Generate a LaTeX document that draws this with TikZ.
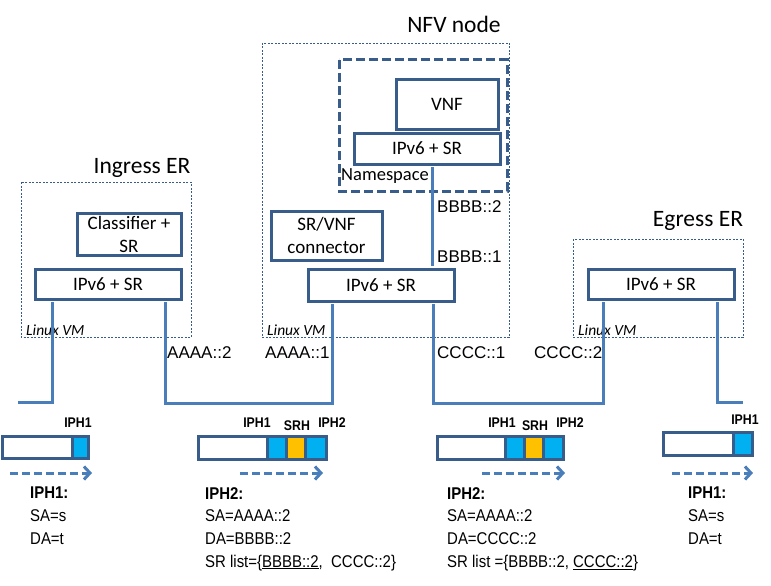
\documentclass[tikz,border=0pt]{standalone}
\usepackage{fontspec}
\setmainfont{Carlito}
\newfontfamily\arialn{Liberation Sans}
\newfontfamily\arialcond[FakeStretch=0.88]{Liberation Sans}
\usetikzlibrary{arrows.meta}
\definecolor{boxblue}{HTML}{385D8A}
\definecolor{linkblue}{HTML}{4A7EBB}
\definecolor{cellblue}{HTML}{00B0F0}
\definecolor{cellorange}{HTML}{FFC000}

\begin{document}
\begin{tikzpicture}[x=1pt, y=-1pt,
		box/.style={draw=boxblue, line width=3pt, fill=white, inner sep=0pt, align=center, font=\fontsize{19}{23}\selectfont},
		vm/.style={draw=boxblue, line width=0.8pt, dash pattern=on 2pt off 1.5pt},
		ns/.style={draw=boxblue, line width=3pt, dash pattern=on 9pt off 4pt},
		link/.style={draw=linkblue, line width=3pt, shorten <=1.5pt, shorten >=1.5pt},
		title/.style={inner sep=0pt, font=\fontsize{23.5}{26}\selectfont},
		vmlab/.style={anchor=west, inner sep=0pt, font=\fontsize{15.5}{17}\selectfont\itshape},
		addr/.style={anchor=west, inner sep=0pt, font=\arialn\fontsize{17}{20}\selectfont},
		hdr/.style={inner sep=0pt, font=\arialcond\fontsize{14}{16}\selectfont\bfseries},
		info/.style={anchor=north west, inner sep=0pt, align=left, font=\arialcond\fontsize{17}{22.7}\selectfont},
		frame/.style={draw=boxblue, line width=3pt},
		flow/.style={draw=linkblue, line width=3pt, dash pattern=on 8pt off 4pt, -{Straight Barb[length=6pt, width=13pt, line width=3pt]}}]
	\useasboundingbox (0,0) rectangle (771,586);

	% === Ingress ER ===
	\begin{scope}
		\node[title] (ingt) at (142,168) {Ingress ER};
		\draw[vm] (21,182) rectangle (191,337);
		\node[box, minimum width=104, minimum height=42] (ingcls) at (129,234) {Classifier +\\SR};
		\node[box, minimum width=146, minimum height=30] (ingip) at (108,284) {IPv6 + SR};
		\node[vmlab] (ingvm) at (26,330) {Linux VM};
	\end{scope}

	% === NFV node ===
	\begin{scope}
		\node[title] (nfvt) at (454,24) {NFV node};
		\draw[vm] (262,43) rectangle (509,337);
		\draw[ns] (339,60) rectangle (507,191);
		\node[box, minimum width=102, minimum height=49] (vnf) at (447,104.5) {VNF};
		\node[box, minimum width=146, minimum height=31] (nsip) at (427,148.5) {IPv6 + SR};
		\node[anchor=west, inner sep=0pt, font=\fontsize{18.5}{20}\selectfont] (nslab) at (341,176) {Namespace};
		\node[box, minimum width=111, minimum height=49] (conn) at (326.5,235.5) {SR/VNF\\connector};
		\node[box, minimum width=146, minimum height=32] (nfvip) at (381,285) {IPv6 + SR};
		\node[vmlab] (nfvvm) at (267,330) {Linux VM};
		% lien vers le namespace
		\draw[link] (432,0 |- nsip.south) -- (432,0 |- nfvip.north);
		\node[addr] (b2) at (437,207) {BBBB::2};
		\node[addr] (b1) at (437,257) {BBBB::1};
	\end{scope}

	% === Egress ER ===
	\begin{scope}
		\node[title] (egt) at (698,221) {Egress ER};
		\draw[vm] (573,239) rectangle (743,337);
		\node[box, minimum width=146, minimum height=30] (egip) at (661,284) {IPv6 + SR};
		\node[vmlab] (egvm) at (578,330) {Linux VM};
	\end{scope}

	% === liens ===
	\coordinate (inend) at (18,402);
	\coordinate (outend) at (743,402);
	\draw[link, shorten >=0pt] (52,0 |- ingip.south) |- (inend);
	\draw[link] (165,0 |- ingip.south) -- (165,403) -| (332,0 |- nfvip.south);
	\draw[link] (433,0 |- nfvip.south) -- (433,403) -| (603,0 |- egip.south);
	\draw[link, shorten >=0pt] (717,0 |- egip.south) |- (outend);

	\node[addr] (a2) at (167,353) {AAAA::2};
	\node[addr] (a1) at (265,353) {AAAA::1};
	\node[addr] (c1) at (437,353) {CCCC::1};
	\node[addr] (c2) at (534,353) {CCCC::2};

	% === paquets ===
	% paquet 1
	\fill[cellblue] (72,436) rectangle (88,458);
	\draw[frame] (2,436) rectangle (88,458) (72,436) -- (72,458);
	\node[hdr] (p1h1) at (78,423) {IPH1};
	\draw[flow] (10,473) -- (92,473);
	\node[info] (p1txt) at (30,487) {\textbf{IPH1:}\\SA=s\\DA=t};

	% paquet 2
	\fill[cellblue] (267,436) rectangle (286,459);
	\fill[cellorange] (286,436) rectangle (305,459);
	\fill[cellblue] (305,436) rectangle (326,459);
	\draw[frame] (198,436) rectangle (326,459) (267,436) -- (267,459) (286,436) -- (286,459) (305,436) -- (305,459);
	\node[hdr] (p2h1) at (257,423) {IPH1};
	\node[hdr] (p2srh) at (297,426) {SRH};
	\node[hdr] (p2h2) at (332,423) {IPH2};
	\draw[flow] (240,473) -- (323,473);
	\node[info] (p2txt) at (205,487) {\textbf{IPH2:}\\SA=AAAA::2\\DA=BBBB::2\\SR list=\{\underline{BBBB::2},\ \ CCCC::2\}};

	% paquet 3
	\fill[cellblue] (505,436) rectangle (524,459);
	\fill[cellorange] (524,436) rectangle (543,459);
	\fill[cellblue] (543,436) rectangle (563,459);
	\draw[frame] (437,436) rectangle (563,459) (505,436) -- (505,459) (524,436) -- (524,459) (543,436) -- (543,459);
	\node[hdr] (p3h1) at (502,423) {IPH1};
	\node[hdr] (p3srh) at (535,426) {SRH};
	\node[hdr] (p3h2) at (570,423) {IPH2};
	\draw[flow] (482,473) -- (565,473);
	\node[info] (p3txt) at (447,487) {\textbf{IPH2:}\\SA=AAAA::2\\DA=CCCC::2\\SR list =\{BBBB::2, \underline{CCCC::2}\}};

	% paquet 4
	\fill[cellblue] (733,432) rectangle (752,455);
	\draw[frame] (663,432) rectangle (752,455) (733,432) -- (733,455);
	\node[hdr] (p4h1) at (745,420) {IPH1};
	\draw[flow] (672,473) -- (753,473);
	\node[info] (p4txt) at (688,487) {\textbf{IPH1:}\\SA=s\\DA=t};
\end{tikzpicture}
\end{document}
